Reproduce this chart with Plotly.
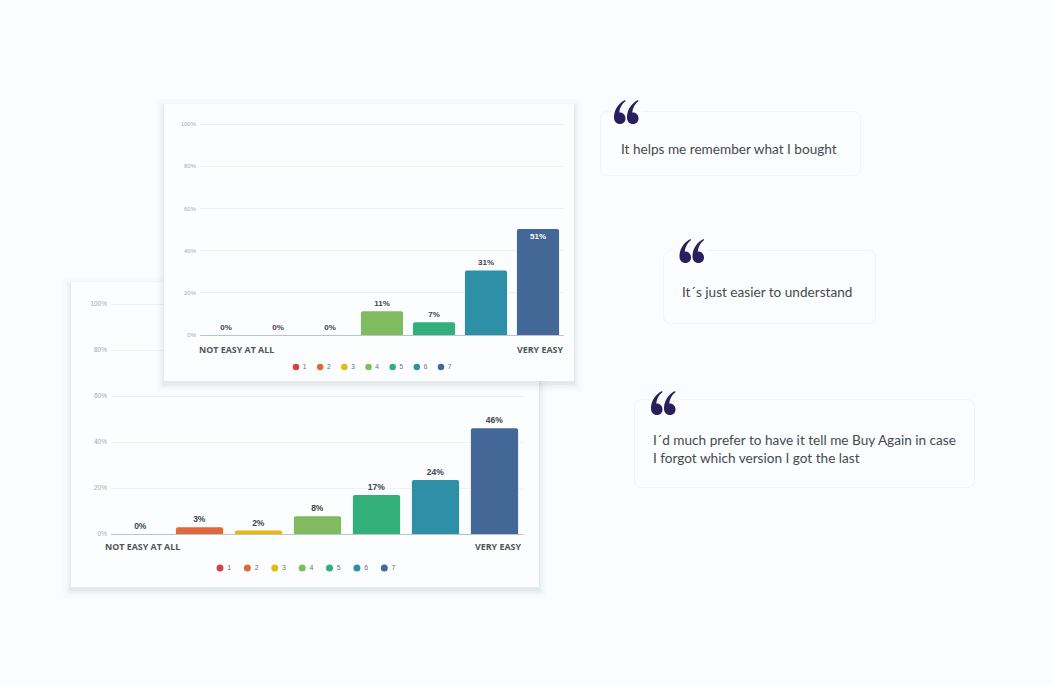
import plotly.graph_objects as go

W, H = 1052, 685
categories = ["1", "2", "3", "4", "5", "6", "7"]
colors = ["#d0434a", "#e0693c", "#e5b813", "#80bb60", "#33b07a", "#2e90a6", "#436796"]
front_values = [0, 0, 0, 11.2, 6, 30.6, 50.2]
front_labels = ["0%", "0%", "0%", "11%", "7%", "31%", "51%"]
back_values = [0, 2.9, 1.5, 7.7, 17, 23.5, 46]
back_labels = ["0%", "3%", "2%", "8%", "17%", "24%", "46%"]
y_ticks = [0, 20, 40, 60, 80, 100]
y_tick_labels = ["0%", "20%", "40%", "60%", "80%", "100%"]
scale_low = "NOT EASY AT ALL"
scale_high = "VERY EASY"
quote_1 = ["It helps me remember what I bought"]
quote_2 = ["It´s just easier to understand"]
quote_3 = ["I´d much prefer to have it tell me Buy Again in case",
           "I forgot which version I got the last"]

BG = "#f9fdff"
CARD = "#fbfdfe"
GRID = "#eef2f4"
TEXT = "#454a50"
NAVY = "#2a1f5e"
Y_MAX = 101


def fx(p):
    return p / W


def fy(p):
    return 1 - p / H


def rounded_path(x0, y0, x1, y1, r):
    return (
        f"M {x0 + r} {y0} L {x1 - r} {y0} Q {x1} {y0} {x1} {y0 + r} "
        f"L {x1} {y1 - r} Q {x1} {y1} {x1 - r} {y1} "
        f"L {x0 + r} {y1} Q {x0} {y1} {x0} {y1 - r} "
        f"L {x0} {y0 + r} Q {x0} {y0} {x0 + r} {y0} Z"
    )


def six_path(ox, oy):
    """One teardrop of the decorative quotation icon, in page pixels."""
    def p(x, y):
        return f"{ox + x} {oy + y}"
    return (
        f"M {p(11, 0)} C {p(3.5, 4)} {p(0, 10.5)} {p(0, 17.5)} "
        f"C {p(0, 21.5)} {p(2.5, 24)} {p(6, 24)} "
        f"C {p(9.5, 24)} {p(11.5, 21.5)} {p(11.5, 18.5)} "
        f"C {p(11.5, 15)} {p(9, 12.5)} {p(6, 12.5)} "
        f"C {p(5.8, 12.5)} {p(5.5, 12.5)} {p(5.2, 12.6)} "
        f"C {p(5.6, 8)} {p(8, 3.6)} {p(11.6, 1)} Z"
    )


def card_shapes(x0, y0, x1, y1, paper):
    refs = dict(xref="paper", yref="paper") if paper else dict(xref="x2", yref="y2")
    out = []
    # soft drop shadow built from widening translucent rectangles
    for spread, alpha in [(8, 0.008), (6, 0.012), (4, 0.018), (2.5, 0.025), (1, 0.03)]:
        xa, xb = x0 - spread, x1 + spread
        ya, yb = y0 - spread + 3, y1 + spread + 3
        if paper:
            xa, xb, ya, yb = fx(xa), fx(xb), fy(ya), fy(yb)
        out.append(dict(type="rect", layer="below", x0=xa, x1=xb, y0=ya, y1=yb,
                        fillcolor=f"rgba(40,50,60,{alpha})", line_width=0, **refs))
    xa, xb, ya, yb = (fx(x0), fx(x1), fy(y0), fy(y1)) if paper else (x0, x1, y0, y1)
    out.append(dict(type="rect", layer="below", x0=xa, x1=xb, y0=ya, y1=yb,
                    fillcolor=CARD, line_width=0, **refs))
    return out


fig = go.Figure()


def add_chart(values, labels, axis_n, width_frac, x0, x1, y0, y100, tick_size, label_size, inside_last):
    xa, ya = ("x", "y") if axis_n == 1 else (f"x{axis_n}", f"y{axis_n}")
    positions = ["outside"] * len(values)
    fonts = ["#40454b"] * len(values)
    if inside_last:
        positions[-1] = "inside"
        fonts[-1] = "#ffffff"
    fig.add_trace(go.Bar(
        x=categories, y=values, text=labels, textposition=positions,
        insidetextanchor="end",
        textfont=dict(family="Liberation Sans", size=label_size, color=fonts, weight="bold"),
        marker=dict(color=colors, line_width=0, cornerradius=2),
        width=width_frac, cliponaxis=False, xaxis=xa, yaxis=ya,
        constraintext="none", showlegend=False, hoverinfo="skip",
    ))
    y_top = y0 - (y0 - y100) * Y_MAX / 100
    layout = {}
    layout["xaxis" if axis_n == 1 else f"xaxis{axis_n}"] = dict(
        domain=[fx(x0), fx(x1)], anchor=ya, type="category", range=[-0.5, 6.5],
        showticklabels=False, ticks="", showgrid=False, zeroline=False, automargin=False,
        showline=True, linecolor="#bcc3cb", linewidth=1,
    )
    layout["yaxis" if axis_n == 1 else f"yaxis{axis_n}"] = dict(
        domain=[fy(y0), fy(y_top)], anchor=xa, range=[0, Y_MAX], tickvals=y_ticks,
        ticktext=y_tick_labels, showgrid=True, gridcolor=GRID, gridwidth=1, automargin=False,
        zeroline=False, showline=False, ticks="", ticklabelstandoff=3,
        tickfont=dict(family="Liberation Sans", size=tick_size, color="#a6abb0"),
    )
    fig.update_layout(**layout)


def add_legend(axis_n, x0, x1, y_mid, size, font_size):
    xa, ya = f"x{axis_n}", f"y{axis_n}"
    fig.add_trace(go.Scatter(
        x=categories, y=[0] * 7, mode="markers+text", text=categories,
        texttemplate="\u00a0%{text}", textposition="middle right",
        textfont=dict(family="Liberation Sans", size=font_size, color="#6a6f75"),
        marker=dict(color=colors, size=size), cliponaxis=False,
        xaxis=xa, yaxis=ya, showlegend=False, hoverinfo="skip",
    ))
    hidden = dict(visible=False, fixedrange=True, automargin=False)
    fig.update_layout(**{
        f"xaxis{axis_n}": dict(domain=[fx(x0), fx(x1)], anchor=ya, type="category",
                               range=[0, 6], **hidden),
        f"yaxis{axis_n}": dict(domain=[fy(y_mid + 5), fy(y_mid - 5)], anchor=xa,
                               range=[-1, 1], **hidden),
    })


# back chart, then a full-page pixel subplot carrying the front card, then the front chart
add_chart(back_values, back_labels, 1, 0.80, 111, 524, 534, 304, 6.5, 8.5, False)
fig.add_trace(go.Scatter(x=[None], y=[None], xaxis="x2", yaxis="y2", showlegend=False, hoverinfo="skip"))
fig.update_layout(
    xaxis2=dict(domain=[0, 1], anchor="y2", range=[0, W], visible=False, fixedrange=True, automargin=False),
    yaxis2=dict(domain=[0, 1], anchor="x2", range=[H, 0], visible=False, fixedrange=True, automargin=False),
)
add_chart(front_values, front_labels, 3, 0.81, 200, 564, 335, 124, 6, 8, True)
add_legend(4, 220, 384.3, 568, 7, 7)
add_legend(5, 296, 441, 367, 6.5, 6.5)

shapes = card_shapes(71, 282, 539, 587, True) + card_shapes(164, 104, 574, 381, False)

quote_cards = [(600.5, 111.5, 860.5, 175.5, 612, 642, 614, 100),
               (663.5, 250.5, 875.5, 323.5, 677, 707, 679.5, 239),
               (634.5, 399.5, 974.5, 487.5, 649, 679, 651, 391)]
for cx0, cy0, cx1, cy1, gap0, gap1, qx, qy in quote_cards:
    shapes.append(dict(type="path", layer="below", path=rounded_path(cx0, cy0, cx1, cy1, 8),
                       xref="x2", yref="y2", fillcolor=CARD, line=dict(color="#eff4f6", width=1)))
    shapes.append(dict(type="rect", layer="below", x0=gap0, x1=gap1, y0=cy0 - 2, y1=cy0 + 2,
                       xref="x2", yref="y2", fillcolor=BG, line_width=0))
    for dx in (0, 13):
        shapes.append(dict(type="path", layer="below", path=six_path(qx + dx, qy),
                           xref="x2", yref="y2", fillcolor=NAVY, line_width=0))

annotations = []


def note(text, px, py, size, color, family, anchor="left", bold=False):
    annotations.append(dict(
        text=f"<b>{text}</b>" if bold else text, x=fx(px), y=fy(py), xref="paper", yref="paper",
        showarrow=False, xanchor=anchor, yanchor="middle", align=anchor, borderpad=0, borderwidth=0,
        font=dict(size=size, color=color, family=family),
    ))


note(scale_low, 199, 349.5, 8.9, "#50555a", "Open Sans", bold=True)
note(scale_high, 563, 349.5, 8.9, "#50555a", "Open Sans", "right", True)
note(scale_low, 104.5, 546.5, 8.9, "#50555a", "Open Sans", bold=True)
note(scale_high, 521, 546.5, 8.9, "#50555a", "Open Sans", "right", True)

QF = "Lato"
note(quote_1[0], 620.5, 149, 13.6, TEXT, QF)
note(quote_2[0], 682, 292, 13.6, TEXT, QF)
note(quote_3[0], 653, 440, 13.6, TEXT, QF)
note(quote_3[1], 653, 458, 13.6, TEXT, QF)

fig.update_layout(
    width=W, height=H, autosize=False, margin=dict(l=0, r=0, t=0, b=0, pad=0),
    paper_bgcolor=BG, plot_bgcolor="rgba(0,0,0,0)", barmode="overlay", showlegend=False,
    shapes=shapes, annotations=annotations,
)
fig.write_html("out.html", config={"displayModeBar": False},
               post_script="document.body.style.margin='0';document.body.style.background='" + BG + "';")
